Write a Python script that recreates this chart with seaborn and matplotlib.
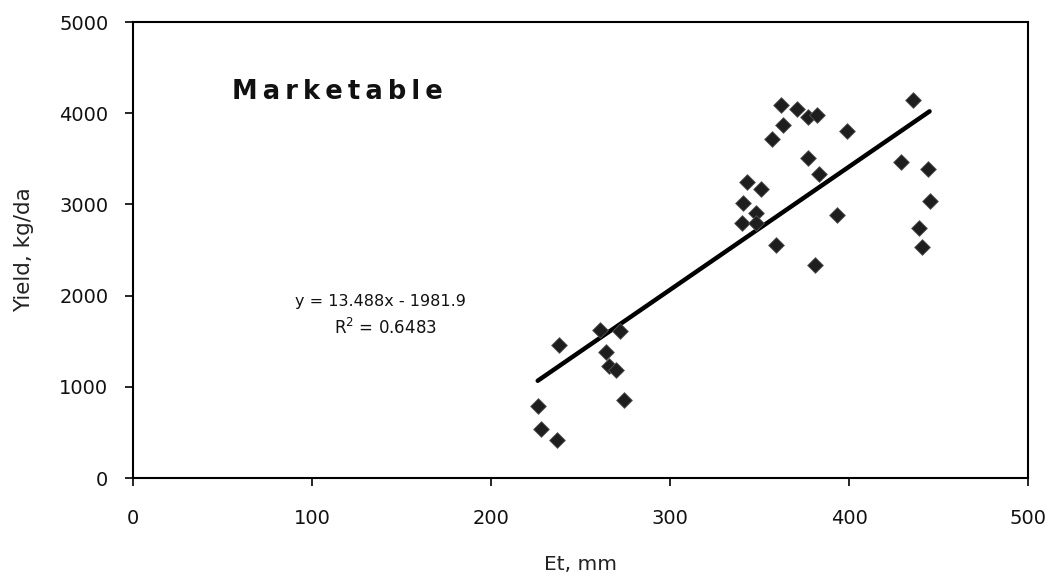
import numpy as np
import pandas as pd
import matplotlib
matplotlib.use("Agg")
import matplotlib.pyplot as plt
import seaborn as sns

# Data
et_mm = [226, 228, 237, 238, 261, 264, 266, 270, 272, 274,
         362, 371, 377, 382, 363, 399, 357, 377, 383, 343,
         351, 341, 348, 340, 348, 393, 359, 381,
         436, 429, 444, 445, 439, 441]
yield_kgda = [790, 540, 420, 1460, 1620, 1380, 1230, 1180, 1610, 850,
              4090, 4050, 3960, 3980, 3870, 3810, 3720, 3510, 3330, 3250,
              3170, 3020, 2910, 2800, 2800, 2880, 2550, 2340,
              4150, 3470, 3390, 3040, 2740, 2530]

slope = 13.488
intercept = -1981.9
r_squared = 0.6483

x_ticks = [0, 100, 200, 300, 400, 500]
y_ticks = [0, 1000, 2000, 3000, 4000, 5000]

df = pd.DataFrame({"Et": et_mm, "Yield": yield_kgda})
x_fit = np.array([min(et_mm), max(et_mm)])
fit = pd.DataFrame({"Et": x_fit, "Yield": slope * x_fit + intercept})

sns.set_theme(style="white")
plt.rcParams['font.family'] = ['DejaVu Sans']

fig = plt.figure(figsize=(10.59, 5.79), dpi=100)
ax = fig.add_axes([0.1259, 0.1744, 0.9707 - 0.1259, 0.962 - 0.1744])

sns.lineplot(data=fit, x="Et", y="Yield", ax=ax, color="black", linewidth=3.2)
sns.scatterplot(data=df, x="Et", y="Yield", ax=ax, marker="D", s=64,
                color="#1e1e1e", edgecolor="#555555", linewidth=0.6, zorder=3)

ax.set_xlim(0, 500)
ax.set_ylim(0, 5000)
ax.set_xticks(x_ticks)
ax.set_yticks(y_ticks)
ax.tick_params(axis="both", direction="out", length=6, width=1.2,
               color="black", labelsize=14, labelcolor="#111111", pad=12,
               bottom=True, left=True)
ax.tick_params(axis="x", pad=16)
for sp in ax.spines.values():
    sp.set_visible(True)
    sp.set_color("black")
    sp.set_linewidth(1.5)

ax.set_xlabel("Et, mm", fontsize=14.5, color="#222222", labelpad=20)
ax.set_ylabel("Yield, kg/da", fontsize=15.5, color="#222222", labelpad=18)

ax.text(55, 4230, "M\u2009a\u2009r\u2009k\u2009e\u2009t\u2009a\u2009b\u2009l\u2009e",
        fontsize=18.5, fontweight="bold", color="#111111", ha="left", va="center")
ax.text(138, 1930, f"y = {slope}x - {abs(intercept)}", fontsize=11.5,
        color="#111111", ha="center", va="center")
ax.text(141, 1650, f"R$^2$ = {r_squared}", fontsize=12,
        color="#111111", ha="center", va="center")

fig.savefig("out.png", dpi=100)
